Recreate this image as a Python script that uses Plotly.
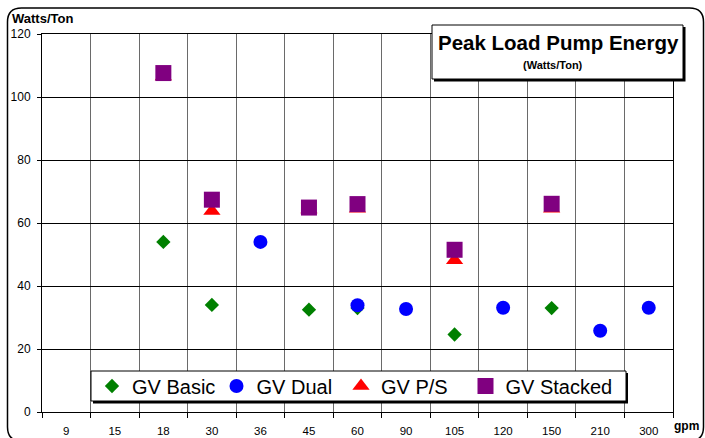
import plotly.graph_objects as go

# ---------------- data ----------------
categories = ["9", "15", "18", "30", "36", "45", "60", "90", "105", "120", "150", "210", "300"]

basic_x = ["18", "30", "45", "60", "105", "150"]
basic_y = [54, 34, 32.5, 33, 24.6, 33]

dual_x = ["36", "60", "90", "120", "210", "300"]
dual_y = [54, 33.9, 32.7, 33.1, 25.8, 33.1]

ps_x = ["18", "30", "45", "60", "105", "150"]
ps_y = [106.5, 63.8, 64.3, 64.5, 48.2, 64.5]

stacked_x = ["18", "30", "45", "60", "105", "150"]
stacked_y = [107.6, 67.4, 64.9, 66.0, 51.5, 66.1]

y_ticks = [0, 20, 40, 60, 80, 100, 120]

# ---------------- layout helpers ----------------
W, H = 705, 438
L, R, T, B = 42, 32, 34, 26
PW, PH = W - L - R, H - T - B
FONT = "Liberation Sans, Arial, sans-serif"


def px(x):
    return (x - L) / PW


def py(y):
    return (H - B - y) / PH


def rounded_path(x0, y0, x1, y1, r):
    pts = [
        ("M", px(x0 + r), py(y0)),
        ("L", px(x1 - r), py(y0)),
        ("Q", px(x1), py(y0), px(x1), py(y0 + r)),
        ("L", px(x1), py(y1 - r)),
        ("Q", px(x1), py(y1), px(x1 - r), py(y1)),
        ("L", px(x0 + r), py(y1)),
        ("Q", px(x0), py(y1), px(x0), py(y1 - r)),
        ("L", px(x0), py(y0 + r)),
        ("Q", px(x0), py(y0), px(x0 + r), py(y0)),
    ]
    s = ""
    for p in pts:
        s += p[0] + " " + " ".join(f"{v:.5f}" for v in p[1:]) + " "
    return s + "Z"


def rect(x0, y0, x1, y1, fill, line_color=None, line_width=0, layer="above"):
    return dict(
        type="rect", xref="paper", yref="paper",
        x0=px(x0), x1=px(x1), y0=py(y1), y1=py(y0),
        fillcolor=fill,
        line=dict(color=line_color or fill, width=line_width),
        layer=layer,
    )


fig = go.Figure()

fig.add_trace(go.Scatter(
    x=basic_x, y=basic_y, mode="markers", name="GV Basic",
    marker=dict(symbol="diamond", size=11, color="#008000", line=dict(width=0)),
))
fig.add_trace(go.Scatter(
    x=dual_x, y=dual_y, mode="markers", name="GV Dual",
    marker=dict(symbol="circle", size=14, color="#0000FF", line=dict(width=0)),
))
fig.add_trace(go.Scatter(
    x=ps_x, y=ps_y, mode="markers", name="GV P/S",
    marker=dict(symbol="triangle-up", size=15, color="#FF0000", line=dict(width=0)),
))
fig.add_trace(go.Scatter(
    x=stacked_x, y=stacked_y, mode="markers", name="GV Stacked",
    marker=dict(symbol="square", size=16, color="#800080", line=dict(width=0)),
))
# empty spacer entry so the last legend label is not clipped
fig.add_trace(go.Scatter(
    x=[None], y=[None], mode="markers", name=" ",
    marker=dict(size=1, opacity=0), hoverinfo="skip",
))

shapes = []
# outer rounded chart border
shapes.append(dict(
    type="path", xref="paper", yref="paper",
    path=rounded_path(7.5, 8, 703.5, 441, 14),
    line=dict(color="black", width=1.5), fillcolor="rgba(0,0,0,0)", layer="below",
))
# title box with shadow
shapes.append(rect(434, 27, 685.5, 81.5, "black", layer="above"))
shapes.append(rect(432, 25, 683, 79, "white", "black", 1, layer="above"))
# legend box with shadow
shapes.append(rect(93, 373, 628, 403.5, "black", layer="above"))
shapes.append(rect(91, 371, 626, 401, "white", "black", 1, layer="above"))

annotations = [
    dict(text="<b>Peak Load Pump Energy</b>", x=px(558), y=py(42), xref="paper", yref="paper",
         showarrow=False, xanchor="center", yanchor="middle",
         font=dict(family=FONT, size=20.5, color="black")),
    dict(text="<b>(Watts/Ton)</b>", x=px(553), y=py(65), xref="paper", yref="paper",
         showarrow=False, xanchor="center", yanchor="middle",
         font=dict(family=FONT, size=11, color="black")),
    dict(text="<b>Watts/Ton</b>", x=px(10), y=py(19), xref="paper", yref="paper",
         showarrow=False, xanchor="left", yanchor="middle",
         font=dict(family=FONT, size=13, color="black")),
    dict(text="<b>gpm</b>", x=px(672), y=py(426), xref="paper", yref="paper",
         showarrow=False, xanchor="left", yanchor="middle",
         font=dict(family=FONT, size=12, color="black")),
]

fig.update_layout(
    width=W, height=H,
    margin=dict(l=L, r=R, t=T, b=B, pad=0, autoexpand=False),
    paper_bgcolor="white", plot_bgcolor="white",
    font=dict(family=FONT, size=12, color="black"),
    showlegend=True,
    legend=dict(
        orientation="h",
        x=px(92), y=py(386), xanchor="left", yanchor="middle",
        bgcolor="rgba(0,0,0,0)", borderwidth=0,
        font=dict(family=FONT, size=20, color="black"),
        entrywidth=79.5, entrywidthmode="pixels",
        itemsizing="trace",
    ),
    shapes=shapes,
    annotations=annotations,
    xaxis=dict(
        type="category", categoryorder="array", categoryarray=categories,
        tickmode="array", tickvals=categories, ticktext=categories,
        range=[-0.5, len(categories) - 0.5],
        tickson="boundaries", ticks="outside", ticklen=5, tickcolor="black", tickwidth=1,
        showgrid=True, gridcolor="#6a6a6a", gridwidth=1.4,
        showline=True, linecolor="black", linewidth=1, mirror=True,
        tickfont=dict(family=FONT, size=11.5, color="black"),
        ticklabelstandoff=8,
        zeroline=False, fixedrange=True, automargin=False,
    ),
    yaxis=dict(
        range=[0, 120], tickmode="array", tickvals=y_ticks,
        ticks="outside", ticklen=4, tickcolor="black", tickwidth=1,
        showgrid=True, gridcolor="black", gridwidth=1,
        showline=True, linecolor="black", linewidth=1, mirror=True,
        tickfont=dict(family=FONT, size=12, color="black"),
        ticklabelstandoff=4,
        zeroline=False, fixedrange=True, automargin=False,
    ),
)

fig.write_html(
    "out.html",
    config={"displayModeBar": False},
    post_script="document.body.style.margin='0px';document.body.style.overflow='hidden';",
)
